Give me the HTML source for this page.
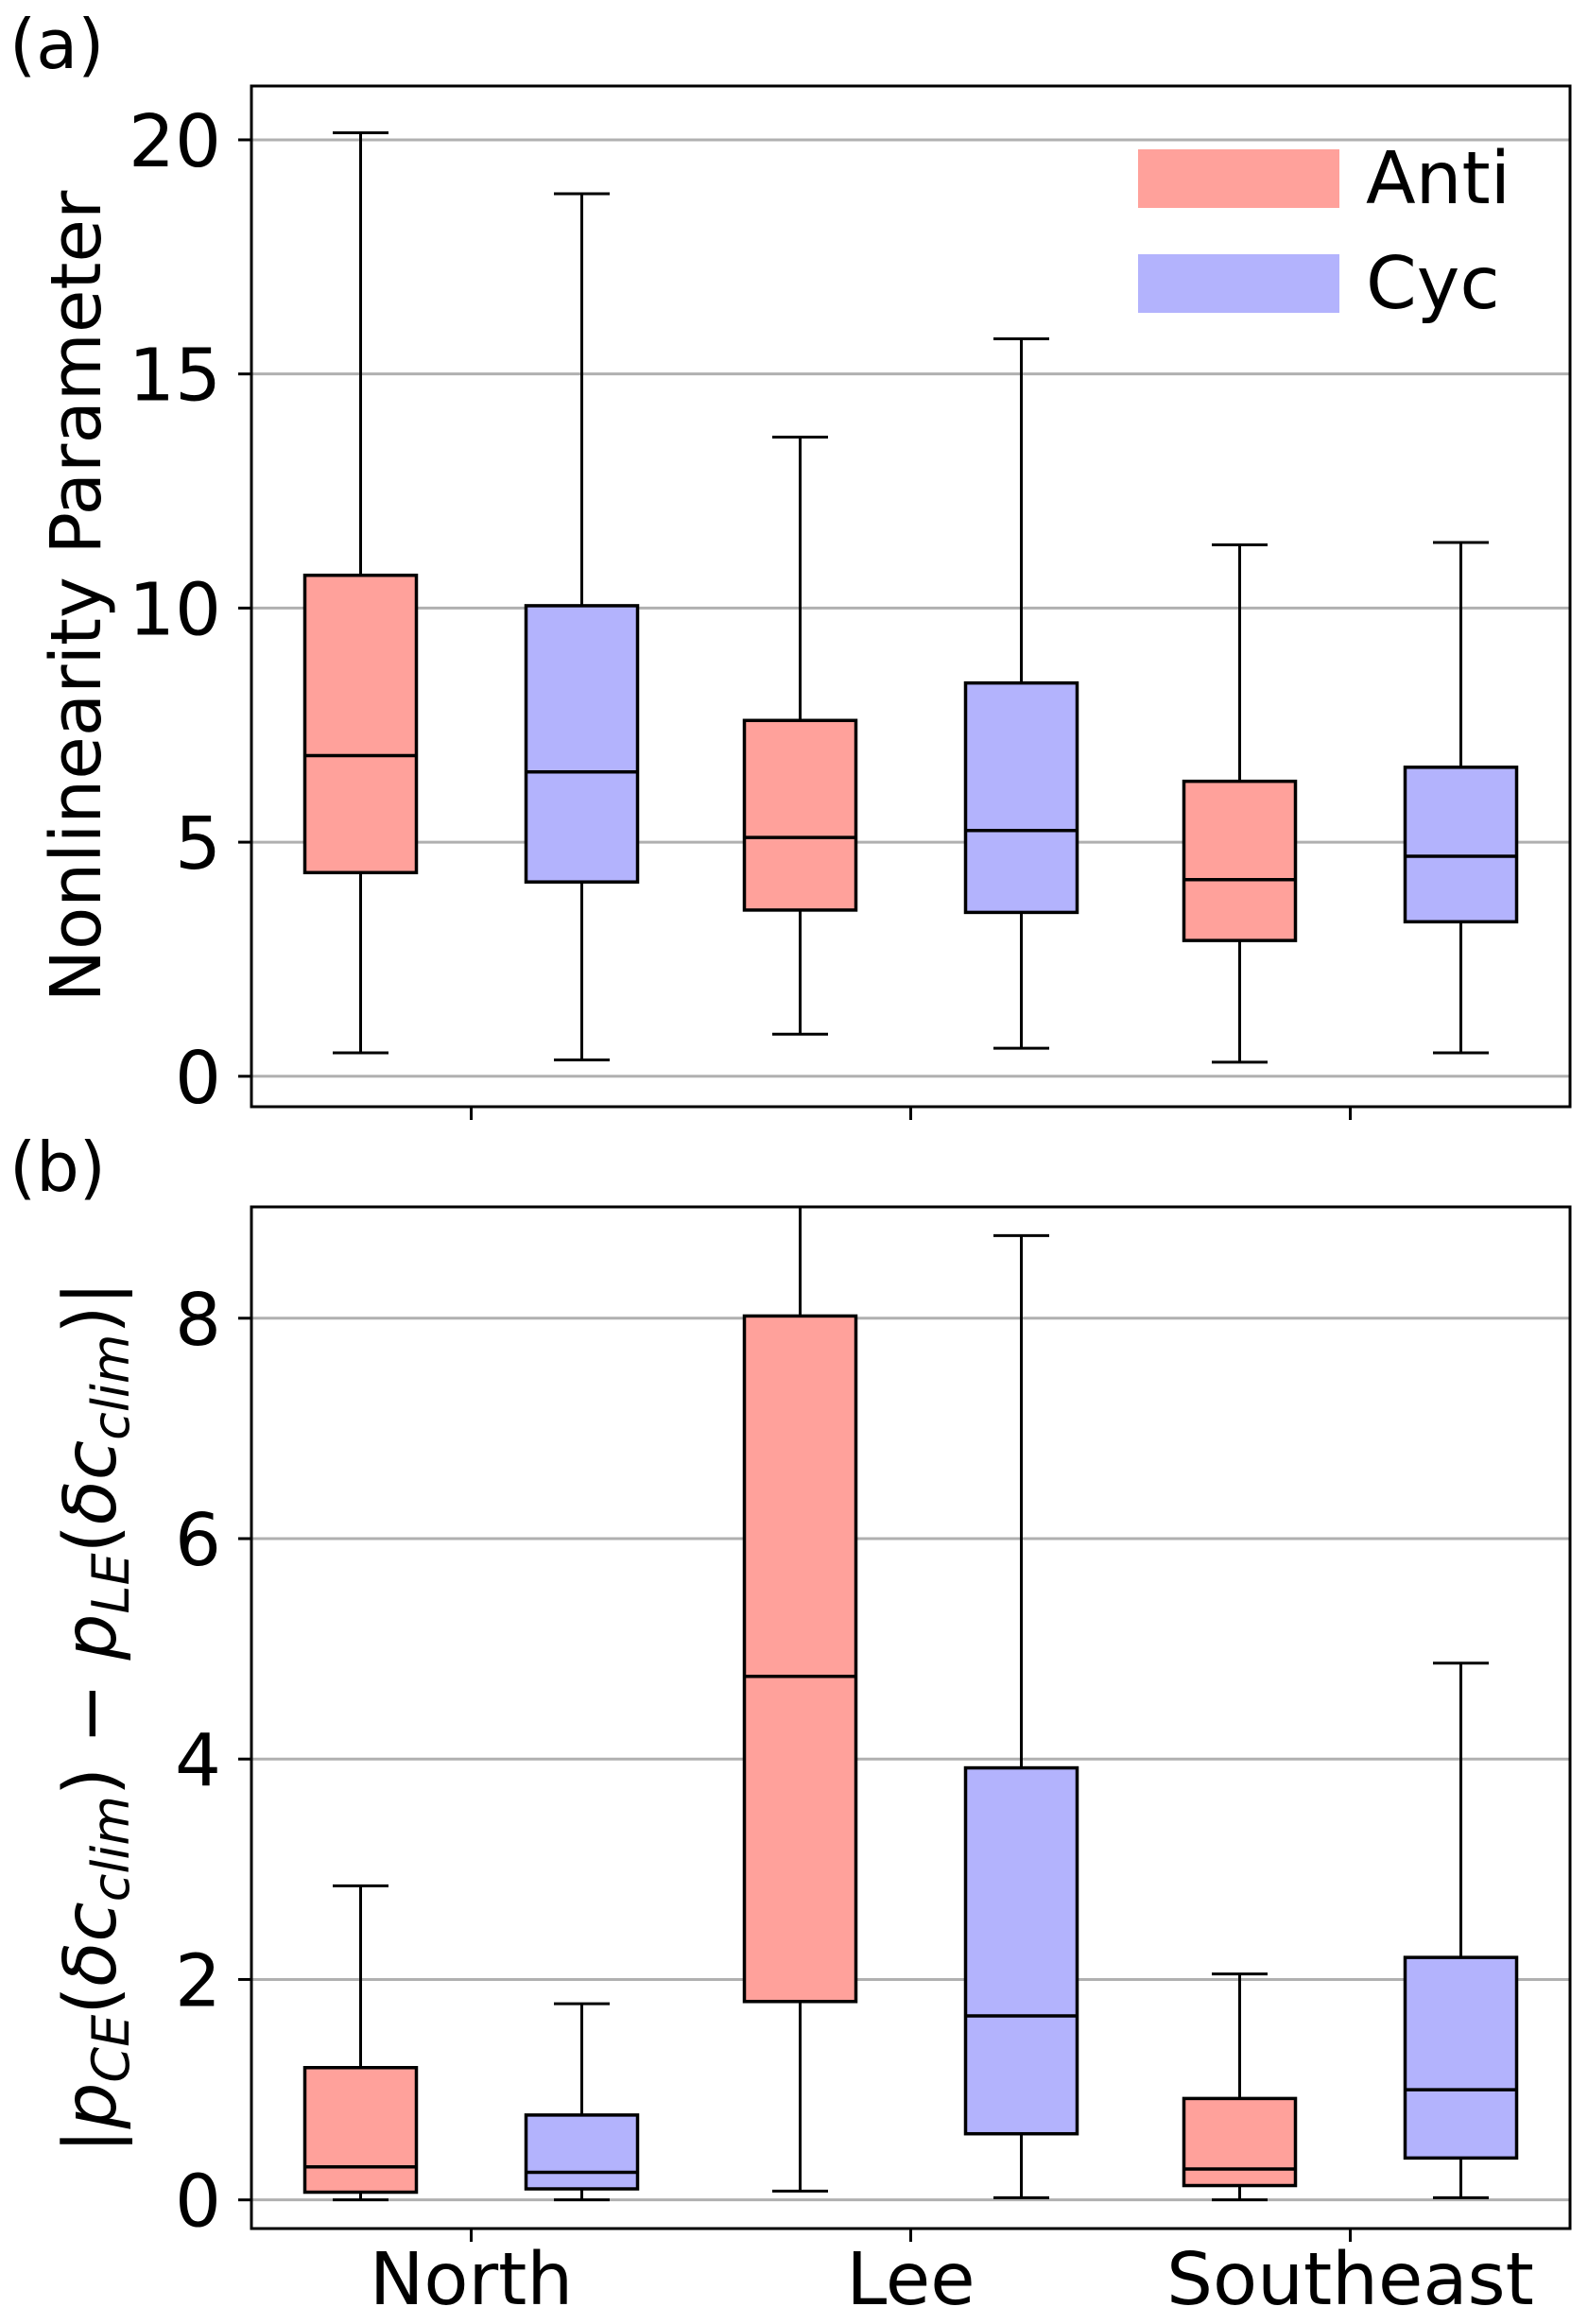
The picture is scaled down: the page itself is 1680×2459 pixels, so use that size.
<!DOCTYPE html>
<html><head><meta charset="utf-8"><style>
html,body{margin:0;padding:0;background:#fff;}
svg{display:block;font-family:"DejaVu Sans","Liberation Sans",sans-serif;}
</style></head><body>
<svg id="chart" width="1680" height="2459" viewBox="0 0 1680 2459" xmlns="http://www.w3.org/2000/svg"></svg>
<script>
const categories = ["North", "Lee", "Southeast"];
const seriesNames = ["Anti", "Cyc"];
// panel a: [whisLow, q1, median, q3, whisHigh] per category, per series
const aAnti = [[0.5,4.35,6.85,10.7,20.15],[0.9,3.55,5.1,7.6,13.65],[0.3,2.9,4.2,6.3,11.35]];
const aCyc  = [[0.35,4.15,6.5,10.05,18.85],[0.6,3.5,5.25,8.4,15.75],[0.5,3.3,4.7,6.6,11.4]];
const bAnti = [[0.0,0.07,0.3,1.2,2.85],[0.08,1.8,4.75,8.02,10.0],[0.0,0.13,0.28,0.92,2.05]];
const bCyc  = [[0.0,0.1,0.25,0.77,1.78],[0.02,0.6,1.67,3.92,8.75],[0.02,0.38,1.0,2.2,4.87]];
const aTicks = [0,5,10,15,20];
const bTicks = [0,2,4,6,8];

const svg = document.getElementById('chart');
const NS = 'http://www.w3.org/2000/svg';
function mk(tag, attrs, parent){const e=document.createElementNS(NS,tag);for(const k in attrs)e.setAttribute(k,attrs[k]);(parent||svg).appendChild(e);return e;}

const L=266, R=1661;
const xPos = i => L + (R-L)*(i+0.5)/3;   // category centre
const offs = [-117, 117];
const colors = ['#ffa19b','#b3b3fd'];

function panel(name, top, bottom, ymin, ymax, ticks, anti, cyc, showX){
  const g = mk('g',{});
  
  
  const y = v => bottom - (v-ymin)/(ymax-ymin)*(bottom-top);
  const clip = mk('clipPath',{id:name+'-clip'},g);
  mk('rect',{x:L,y:top,width:R-L,height:bottom-top},clip);
  ticks.forEach(t=>{
    const gl = mk('line',{x1:L,x2:R,y1:y(t),y2:y(t),stroke:'#b0b0b0','stroke-width':3},g);
    
    
    mk('line',{x1:L-14,x2:L,y1:y(t),y2:y(t),stroke:'#000','stroke-width':3},g);
    const tl = mk('text',{x:234,y:y(t)+28,'text-anchor':'end','font-size':77},g);
    tl.textContent = t;
    
    
  });
  const cg = mk('g',{'clip-path':'url(#'+name+'-clip)'},g);
  [anti,cyc].forEach((ser,si)=>{
    ser.forEach((d,ci)=>{
      const cx = xPos(ci)+offs[si], hw=59, cw=29.5;
      const bg = mk('g',{},cg);
      
      
      mk('line',{x1:cx,x2:cx,y1:y(d[0]),y2:y(d[1]),stroke:'#000','stroke-width':3},bg);
      mk('line',{x1:cx,x2:cx,y1:y(d[3]),y2:y(d[4]),stroke:'#000','stroke-width':3},bg);
      mk('line',{x1:cx-cw,x2:cx+cw,y1:y(d[0]),y2:y(d[0]),stroke:'#000','stroke-width':3},bg);
      mk('line',{x1:cx-cw,x2:cx+cw,y1:y(d[4]),y2:y(d[4]),stroke:'#000','stroke-width':3},bg);
      mk('rect',{x:cx-hw,y:y(d[3]),width:2*hw,height:y(d[1])-y(d[3]),fill:colors[si],stroke:'#000','stroke-width':3.5},bg);
      mk('line',{x1:cx-hw,x2:cx+hw,y1:y(d[2]),y2:y(d[2]),stroke:'#000','stroke-width':3.5},bg);
    });
  });
  categories.forEach((c,i)=>{
    mk('line',{x1:xPos(i),x2:xPos(i),y1:bottom,y2:bottom+14,stroke:'#000','stroke-width':3},g);
    if(showX){
      const t = mk('text',{x:xPos(i),y:bottom+80,'text-anchor':'middle','font-size':77},g);
      t.textContent = c;
      
      
    }
  });
  mk('rect',{x:L,y:top,width:R-L,height:bottom-top,fill:'none',stroke:'#000','stroke-width':3},g);
  return g;
}
panel('panel-a', 91, 1171, -0.65, 21.15, aTicks, aAnti, aCyc, false);
panel('panel-b', 1277, 2358, -0.26, 9.01, bTicks, bAnti, bCyc, true);
</script>
<svg style="position:absolute;left:0;top:0" width="1680" height="2459" xmlns="http://www.w3.org/2000/svg" font-family="DejaVu Sans, Liberation Sans, sans-serif">
  <text x="10" y="72" font-size="72">(a)</text>
  <text x="10" y="1260" font-size="72">(b)</text>
  <text transform="translate(106,631) rotate(-90)" text-anchor="middle" font-size="74">Nonlinearity Parameter</text>
  <text transform="translate(122,1817) rotate(-90)" text-anchor="middle" font-size="77">|<tspan font-style="italic">p</tspan><tspan font-style="italic" font-size="54" dy="14">CE</tspan><tspan dy="-14">(</tspan><tspan font-style="italic">δc</tspan><tspan font-style="italic" font-size="54" dy="14">clim</tspan><tspan dy="-14">) − </tspan><tspan font-style="italic">p</tspan><tspan font-style="italic" font-size="54" dy="14">LE</tspan><tspan dy="-14">(</tspan><tspan font-style="italic">δc</tspan><tspan font-style="italic" font-size="54" dy="14">clim</tspan><tspan dy="-14">)|</tspan></text>
  <g>
    <rect x="1204" y="158" width="213" height="62" fill="#ffa19b"/>
    <text x="1445" y="215" font-size="77">Anti</text>
    <rect x="1204" y="269" width="213" height="62" fill="#b3b3fd"/>
    <text x="1445" y="326" font-size="77">Cyc</text>
  </g>
</svg>
</body></html>
